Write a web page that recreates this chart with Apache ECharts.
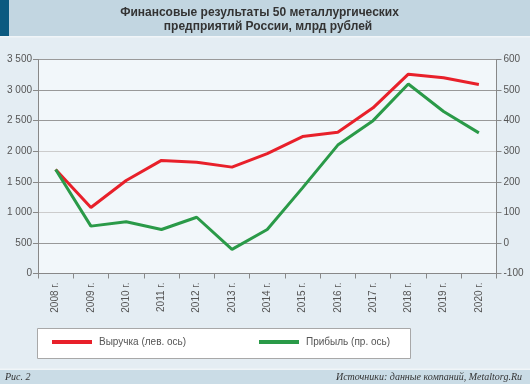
<!DOCTYPE html>
<html><head><meta charset="utf-8">
<script src="https://cdn.jsdelivr.net/npm/echarts@6/dist/echarts.min.js"></script>
<style>html,body{margin:0;padding:0;background:#e4edf3;}#c{width:530px;height:384px;}</style>
</head><body><div id="c"></div>
<script>
const categories = ['2008 г.','2009 г.','2010 г.','2011 г.','2012 г.','2013 г.','2014 г.','2015 г.','2016 г.','2017 г.','2018 г.','2019 г.','2020 г.'];
const revenue = [1700, 1080, 1520, 1850, 1820, 1740, 1960, 2240, 2310, 2710, 3260, 3200, 3090];
const profit = [240, 55, 69, 44, 84, -21, 44, 180, 320, 400, 520, 430, 360];
const titleLines = ['Финансовые результаты 50 металлургических', 'предприятий России, млрд рублей'];
const seriesNames = ['Выручка (лев. ось)', 'Прибыль (пр. ось)'];
const footerLeft = 'Рис. 2';
const footerRight = 'Источники: данные компаний, Metaltorg.Ru';

const chart = echarts.init(document.getElementById('c'), null, {renderer: 'canvas'});
const font = 'Liberation Sans, Arial, sans-serif';
const gridColors = ['#999','#999','#ccc','#999','#ccc','#999','#999','#999'];
chart.setOption({
  backgroundColor: '#e4edf3',
  animation: false,
  graphic: [
    {type: 'rect', shape: {x: 0, y: 0, width: 530, height: 36}, style: {fill: '#c2d6e1'}, z: 0},
    {type: 'rect', shape: {x: 0, y: 36, width: 530, height: 1.5}, style: {fill: '#f0f5f8'}, z: 0},
    {type: 'rect', shape: {x: 0, y: 0, width: 9, height: 36}, style: {fill: '#0b5a80'}, z: 1},
    {type: 'text', x: 259.5, y: 12.5, style: {text: titleLines[0], font: 'bold 12px ' + font, fill: '#333', align: 'center', verticalAlign: 'middle'}, z: 2},
    {type: 'text', x: 268, y: 27, style: {text: titleLines[1], font: 'bold 12px ' + font, fill: '#333', align: 'center', verticalAlign: 'middle'}, z: 2},
    {type: 'rect', shape: {x: 37.5, y: 328.5, width: 373, height: 30}, style: {fill: '#ffffff', stroke: '#a8a8a8', lineWidth: 1}, z: 0},
    {type: 'rect', shape: {x: 0, y: 368.5, width: 530, height: 1.5}, style: {fill: '#f0f5f8'}, z: 0},
    {type: 'rect', shape: {x: 0, y: 370, width: 530, height: 14}, style: {fill: '#cadce6'}, z: 0},
    {type: 'text', x: 5, y: 377, style: {text: footerLeft, font: 'italic 10px Liberation Serif, DejaVu Serif, serif', fill: '#333', align: 'left', verticalAlign: 'middle'}, z: 2},
    {type: 'text', x: 522, y: 377, style: {text: footerRight, font: 'italic 10px Liberation Serif, DejaVu Serif, serif', fill: '#333', align: 'right', verticalAlign: 'middle'}, z: 2}
  ],
  legend: [
    {data: [seriesNames[0]], left: 52, top: 337, icon: 'rect', itemWidth: 40, itemHeight: 4, itemGap: 0,
     textStyle: {fontFamily: font, fontSize: 10, color: '#555', padding: [0,0,0,2]}, padding: 0},
    {data: [seriesNames[1]], left: 259, top: 337, icon: 'rect', itemWidth: 40, itemHeight: 4, itemGap: 0,
     textStyle: {fontFamily: font, fontSize: 10, color: '#555', padding: [0,0,0,2]}, padding: 0}
  ],
  grid: {left: 38, right: 33.5, top: 59.5, bottom: 110.5, show: true, backgroundColor: '#f2f7fa', borderWidth: 0, containLabel: false},
  xAxis: {
    type: 'category', data: categories, boundaryGap: true,
    axisLine: {lineStyle: {color: '#888', width: 1}},
    axisTick: {show: true, length: 5, inside: false, lineStyle: {color: '#888'}},
    axisLabel: {rotate: 90, margin: 9, fontFamily: font, fontSize: 10, color: '#555', interval: 0}
  },
  yAxis: [
    {type: 'value', min: 0, max: 3500, interval: 500, position: 'left',
     axisLine: {show: true, lineStyle: {color: '#888'}},
     axisTick: {show: true, length: 5, lineStyle: {color: '#888'}},
     axisLabel: {margin: 6, fontFamily: font, fontSize: 10, color: '#555',
       formatter: v => String(v).replace(/\B(?=(\d{3})+(?!\d))/g, ' ')},
     splitLine: {show: true, lineStyle: {color: gridColors, width: 1}}},
    {type: 'value', min: -100, max: 600, interval: 100, position: 'right',
     axisLine: {show: true, lineStyle: {color: '#888'}},
     axisTick: {show: true, length: 5, lineStyle: {color: '#888'}},
     axisLabel: {margin: 7, fontFamily: font, fontSize: 10, color: '#555'},
     splitLine: {show: false}}
  ],
  series: [
    {name: seriesNames[0], type: 'line', yAxisIndex: 0, data: revenue, symbol: 'none',
     lineStyle: {color: '#e8202a', width: 3}, itemStyle: {color: '#e8202a'}, z: 3},
    {name: seriesNames[1], type: 'line', yAxisIndex: 1, data: profit, symbol: 'none',
     lineStyle: {color: '#2a9a48', width: 3}, itemStyle: {color: '#2a9a48'}, z: 4}
  ]
});
</script></body></html>
